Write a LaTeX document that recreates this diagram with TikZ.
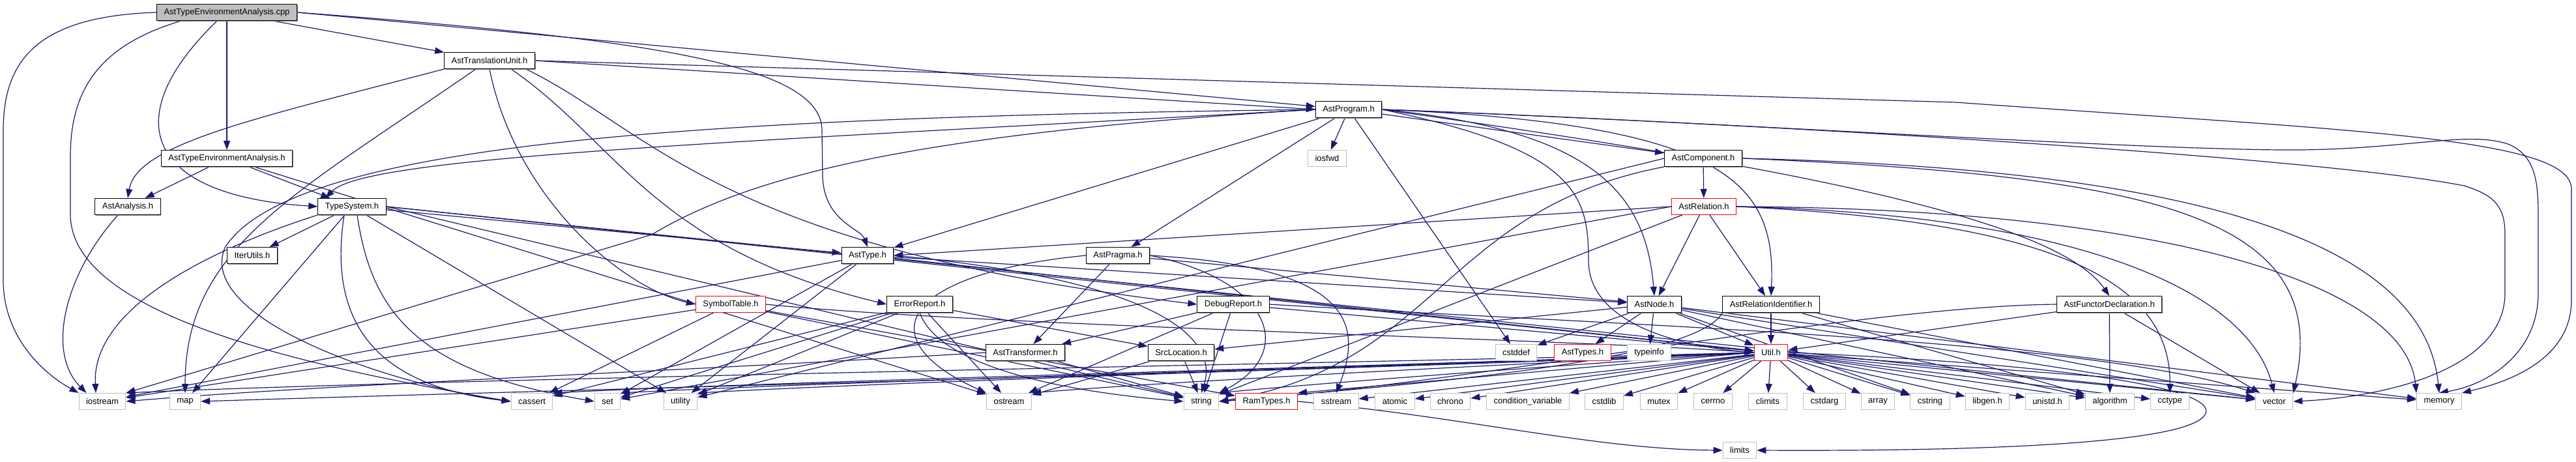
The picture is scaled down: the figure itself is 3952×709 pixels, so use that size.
\documentclass[tikz,border=0pt]{standalone}
\usepackage{fontspec}
\setmainfont{Liberation Sans}
\usetikzlibrary{arrows.meta,calc,backgrounds,shadows}
\definecolor{dgedge}{RGB}{25,25,112}
\definecolor{dggray}{RGB}{191,191,191}
\tikzset{
  filebox/.style={draw=black, fill=white, line width=0.5mm, minimum height=12.5mm,
    inner xsep=5.5mm, inner ysep=0pt, font=\fontsize{18.5}{20}\selectfont},
  hdrbox/.style={filebox, drop shadow={shadow xshift=0.6mm, shadow yshift=-0.6mm,
    fill=black!45, opacity=1}},
  srcbox/.style={hdrbox, fill=dggray},
  partbox/.style={filebox, draw=red},
  sysbox/.style={filebox, draw=dggray},
  dep/.style={-{Triangle[length=7mm,width=5mm]}, line width=0.6mm, draw=dgedge}
}

\begin{document}
\begin{tikzpicture}[x=0.5mm, y=-0.5mm]
  \useasboundingbox (0,0) rectangle (3952,709);

  % project files
  \node[srcbox] (cpp) at (348,19) {AstTypeEnvironmentAnalysis.cpp};
  \node[hdrbox] (tunit) at (751,93) {AstTranslationUnit.h};
  \node[hdrbox] (teah) at (348,243) {AstTypeEnvironmentAnalysis.h};
  \node[hdrbox] (analysis) at (196,317) {AstAnalysis.h};
  \node[hdrbox] (typesys) at (540,317) {TypeSystem.h};
  \node[hdrbox] (iterutils) at (387,392) {IterUtils.h};
  \node[hdrbox] (program) at (2069,168) {AstProgram.h};
  \node[hdrbox] (component) at (2613,243) {AstComponent.h};
  \node[partbox] (relation) at (2614,317) {AstRelation.h};
  \node[hdrbox] (asttype) at (1331,392) {AstType.h};
  \node[hdrbox] (pragma) at (1715,392) {AstPragma.h};
  \node[partbox] (symtab) at (1121,467) {SymbolTable.h};
  \node[hdrbox] (errrep) at (1411,467) {ErrorReport.h};
  \node[hdrbox] (dbgrep) at (1892,467) {DebugReport.h};
  \node[hdrbox] (astnode) at (2538,467) {AstNode.h};
  \node[hdrbox] (relid) at (2717,467) {AstRelationIdentifier.h};
  \node[hdrbox] (functor) at (3236,467) {AstFunctorDeclaration.h};
  \node[hdrbox] (transformer) at (1573,541) {AstTransformer.h};
  \node[hdrbox] (srcloc) at (1812,541) {SrcLocation.h};
  \node[partbox] (asttypes) at (2428,541) {AstTypes.h};
  \node[partbox] (util) at (2717,541) {Util.h};
  \node[partbox] (ramtypes) at (1943,616) {RamTypes.h};

  % system headers
  \node[sysbox] (iosfwd) at (2036,243) {iosfwd};
  \node[sysbox] (cstddef) at (2326,541) {cstddef};
  \node[sysbox] (typeinfo) at (2530,541) {typeinfo};
  \node[sysbox] (iostream) at (157,616) {iostream};
  \node[sysbox] (map) at (284,616) {map};
  \node[sysbox] (cassert) at (816,616) {cassert};
  \node[sysbox] (set) at (932,616) {set};
  \node[sysbox] (utility) at (1044,616) {utility};
  \node[sysbox] (ostream) at (1548,616) {ostream};
  \node[sysbox] (string) at (1843,616) {string};
  \node[sysbox] (sstream) at (2050,616) {sstream};
  \node[sysbox] (atomic) at (2140,616) {atomic};
  \node[sysbox] (chrono) at (2225,616) {chrono};
  \node[sysbox] (condvar) at (2344,616) {condition\_variable};
  \node[sysbox] (cstdlib) at (2461,616) {cstdlib};
  \node[sysbox] (mutex) at (2545,616) {mutex};
  \node[sysbox] (cerrno) at (2628,616) {cerrno};
  \node[sysbox] (climits) at (2712,616) {climits};
  \node[sysbox] (cstdarg) at (2799,616) {cstdarg};
  \node[sysbox] (array) at (2881,616) {array};
  \node[sysbox] (cstring) at (2961,616) {cstring};
  \node[sysbox] (libgen) at (3049,616) {libgen.h};
  \node[sysbox] (unistd) at (3141,616) {unistd.h};
  \node[sysbox] (algorithm) at (3237,616) {algorithm};
  \node[sysbox] (cctype) at (3329,616) {cctype};
  \node[sysbox] (vector) at (3489,616) {vector};
  \node[sysbox] (memory) at (3742,616) {memory};
  \node[sysbox] (limits) at (2669,691) {limits};

  \begin{scope}[on background layer]
    % AstTypeEnvironmentAnalysis.cpp
    \draw[dep] (cpp.west) .. controls (60,25) and (5,90) .. (5,200) -- (5,430)
      .. controls (5,520) and (70,575) .. (iostream.north west);
    \draw[dep] ($(cpp.south west)+(38,0)$) .. controls (150,70) and (108,140) .. (108,240)
      -- (108,330) .. controls (110,480) and (450,560) .. (cassert.west);
    \draw[dep] ($(cpp.south)+(-15,0)$) .. controls (180,180) and (220,300) .. (typesys.west);
    \draw[dep] (cpp) -- (teah);
    \draw[dep] (cpp) -- (tunit);
    \draw[dep] (cpp.east) -- (program);
    \draw[dep] (cpp.east) .. controls (1000,60) and (1261,100) .. (1261,200) -- (1262,270)
      .. controls (1264,340) and (1320,350) .. (asttype.north);

    % AstTranslationUnit.h
    \draw[dep] (tunit.south west) .. controls (400,180) and (210,220) .. (analysis.north);
    \draw[dep] ($(tunit.south)+(-21,0)$) .. controls (450,300) and (284,380) .. (map.north);
    \draw[dep] (tunit.south) .. controls (790,300) and (950,440) .. (symtab.west);
    \draw[dep] ($(tunit.south)+(33,0)$) .. controls (950,220) and (1000,380) .. (errrep.west);
    \draw[dep] ($(tunit.south east)+(-14,0)$) .. controls (1000,200) and (1100,380) .. (dbgrep.west);
    \draw[dep] (tunit.east) -- (program.west);
    \draw[dep] (tunit.east) -- (3000,157) .. controls (3600,200) and (3945,210) .. (3945,290)
      -- (3945,460) .. controls (3945,560) and (3830,590) .. (memory.north east);

    % AstTypeEnvironmentAnalysis.h, AstAnalysis.h
    \draw[dep] (teah) -- (analysis);
    \draw[dep] (teah) -- (typesys);
    \draw[dep] (teah) -- (ostream);
    \draw[dep] ($(analysis.south)+(-15,0)$) .. controls (100,420) and (70,540)
      .. ($(iostream.north west)+(12,0)$);

    % TypeSystem.h
    \draw[dep] (typesys) -- (iterutils);
    \draw[dep] (typesys.south west) .. controls (330,380) and (140,470) .. ($(iostream.north)+(-10,0)$);
    \draw[dep] (typesys) -- (map);
    \draw[dep] ($(typesys.south)+(-12,0)$) .. controls (505,480) and (560,590) .. (cassert.west);
    \draw[dep] ($(typesys.south)+(8,0)$) .. controls (570,480) and (640,570) .. (set.west);
    \draw[dep] (typesys) -- (utility);
    \draw[dep] (typesys) -- (asttype);
    \draw[dep] (typesys.east) -- (util);
    \draw[dep] (typesys.east) -- (string);
    \draw[dep] (typesys.east) -- (vector);

    % AstProgram.h
    \draw[dep] (program.west) .. controls (1400,205) and (1150,270) .. (1000,360) -- (iostream.north east);
    \draw[dep] (program.west) .. controls (1100,180) and (450,215) .. (345,380)
      .. controls (300,490) and (600,590) .. (cassert.west);
    \draw[dep] (program.west) .. controls (1100,220) and (560,240) .. ($(typesys.north west)+(12,0)$);
    \draw[dep] (program) -- (asttype);
    \draw[dep] (program) -- (pragma);
    \draw[dep] (program) -- (iosfwd);
    \draw[dep] (program) -- (cstddef);
    \draw[dep] (program.east) .. controls (2450,200) and (2525,300) .. (astnode.north);
    \draw[dep] (program.east) .. controls (2420,230) and (2437,300) .. (2437,400)
      .. controls (2437,490) and (2560,530) .. (util.west);
    \draw[dep] (program.east) .. controls (2650,190) and (2725,280) .. (relid.north);
    \draw[dep] (program) -- (component);
    \draw[dep] (program.east) .. controls (2700,250) and (3150,330) .. (functor.north);
    \draw[dep] (program.east) .. controls (2600,185) and (3300,232) .. (3530,230)
      .. controls (3700,228) and (3790,200) .. (3850,222) .. controls (3890,240) and (3894,280) .. (3894,330)
      -- (3894,450) .. controls (3894,540) and (3820,590) .. (memory.north);
    \draw[dep] (program.east) .. controls (2700,190) and (3550,240) .. (3780,285)
      .. controls (3830,300) and (3843,320) .. (3843,360) -- (3843,450)
      .. controls (3843,570) and (3650,610) .. (vector.east);

    % AstComponent.h, AstRelation.h
    \draw[dep] (component) -- (relation);
    \draw[dep] (component.west) -- (utility);
    \draw[dep] (component.south west) .. controls (2215,320) and (2205,560) .. (string.east);
    \draw[dep] (component.east) .. controls (3300,270) and (3580,330) .. (vector.north east);
    \draw[dep] (component.east) .. controls (3400,260) and (3720,380) .. (memory.north);
    \draw[dep] (relation) -- (astnode);
    \draw[dep] (relation) -- (relid);
    \draw[dep] (relation.west) -- (asttype.east);
    \draw[dep] (relation.west) -- (set);
    \draw[dep] (relation) -- (string);
    \draw[dep] (relation.east) .. controls (3200,330) and (3450,450) .. (vector.north);
    \draw[dep] (relation.east) .. controls (3300,320) and (3690,430) .. (memory.north west);
    \draw[dep] (relation.east) .. controls (3150,340) and (3330,430) .. (cctype.north);

    % AstNode.h, AstRelationIdentifier.h, AstFunctorDeclaration.h
    \draw[dep] (astnode) -- (srcloc);
    \draw[dep] (astnode) -- (cstddef);
    \draw[dep] (astnode) -- (asttypes);
    \draw[dep] (astnode) -- (typeinfo);
    \draw[dep] (astnode) -- (util);
    \draw[dep] (astnode) -- (cstring);
    \draw[dep] (astnode) -- (algorithm);
    \draw[dep] (astnode) -- (vector);
    \draw[dep] (astnode) -- (memory);
    \draw[dep] (relid) -- (util);
    \draw[dep] (relid.south west) .. controls (2600,560) and (2100,595) .. (string.east);
    \draw[dep] (relid) -- (algorithm);
    \draw[dep] (relid) -- (vector);
    \draw[dep] (functor.west) .. controls (2850,470) and (2250,590) .. (string.east);
    \draw[dep] (functor) -- (util);
    \draw[dep] (functor) -- (algorithm);
    \draw[dep] (functor) -- (vector);

    % AstPragma.h, AstType.h, AstTransformer.h
    \draw[dep] (pragma) -- (transformer);
    \draw[dep] (pragma) -- (astnode);
    \draw[dep] (pragma.west) .. controls (1380,420) and (1330,520) .. (ostream.north west);
    \draw[dep] (pragma.east) .. controls (1950,430) and (1990,540) .. (string.north east);
    \draw[dep] (pragma.east) .. controls (2080,410) and (2090,500) .. (sstream.north);
    \draw[dep] (asttype) -- (iostream);
    \draw[dep] (asttype) -- (set);
    \draw[dep] (asttype) -- (utility);
    \draw[dep] (asttype) -- (astnode);
    \draw[dep] (asttype) -- (util);
    \draw[dep] (asttype.east) .. controls (1780,430) and (1870,520) .. (string.north);
    \draw[dep] (transformer) -- (string);
    \draw[dep] (transformer.west) .. controls (1000,572) and (500,590) .. (iostream.east);

    % SymbolTable.h, ErrorReport.h, DebugReport.h, SrcLocation.h, RamTypes.h
    \draw[dep] (symtab) -- (iostream);
    \draw[dep] (symtab) -- (cassert);
    \draw[dep] (symtab) -- (string);
    \draw[dep] (symtab) -- (ramtypes);
    \draw[dep] (symtab.east) .. controls (1500,500) and (2400,520) .. (util.west);
    \draw[dep] (errrep) -- (srcloc);
    \draw[dep] (errrep) -- (ostream);
    \draw[dep] (errrep) -- (set);
    \draw[dep] (errrep) -- (cassert);
    \draw[dep] (errrep) -- (utility);
    \draw[dep] (errrep.south) .. controls (1440,560) and (1620,600) .. (string.west);
    \draw[dep] (dbgrep) -- (transformer);
    \draw[dep] (dbgrep) -- (ostream);
    \draw[dep] (dbgrep) -- (string);
    \draw[dep] (dbgrep) -- (util);
    \draw[dep] (dbgrep.east) .. controls (2500,500) and (3200,520) .. (vector.north west);
    \draw[dep] (srcloc) -- (string);
    \draw[dep] (srcloc) -- (ostream);
    \draw[dep] (ramtypes.east) .. controls (2250,640) and (2450,690) .. (limits.west);

    % Util.h
    \draw[dep] (util) -- (sstream);
    \draw[dep] (util) -- (atomic);
    \draw[dep] (util) -- (chrono);
    \draw[dep] (util) -- (condvar);
    \draw[dep] (util) -- (cstdlib);
    \draw[dep] (util) -- (mutex);
    \draw[dep] (util) -- (cerrno);
    \draw[dep] (util) -- (climits);
    \draw[dep] (util) -- (cstdarg);
    \draw[dep] (util) -- (array);
    \draw[dep] (util) -- (cstring);
    \draw[dep] (util) -- (libgen);
    \draw[dep] (util) -- (unistd);
    \draw[dep] (util) -- (algorithm);
    \draw[dep] (util) -- (cctype);
    \draw[dep] (util) -- (vector);
    \draw[dep] (util) -- (memory);
    \draw[dep] (util.west) -- (ramtypes.north east);
    \draw[dep] (util.west) .. controls (2400,560) and (2000,590) .. (string.north east);
    \draw[dep] (util.west) .. controls (2300,560) and (1800,585) .. (ostream.north east);
    \draw[dep] (util.west) .. controls (2200,560) and (1400,585) .. (utility.north east);
    \draw[dep] (util.west) .. controls (2200,560) and (1300,585) .. (set.north east);
    \draw[dep] (util.west) .. controls (2200,560) and (1200,585) .. (cassert.north east);
    \draw[dep] (util.west) .. controls (2200,565) and (800,600) .. (map.east);
    \draw[dep] (util.west) .. controls (2200,555) and (700,580) .. (iostream.north east);
    \draw[dep] (util.east) .. controls (3200,560) and (3420,600) .. (3380,640)
      .. controls (3330,690) and (2900,692) .. (limits.east);
  \end{scope}
\end{tikzpicture}
\end{document}
